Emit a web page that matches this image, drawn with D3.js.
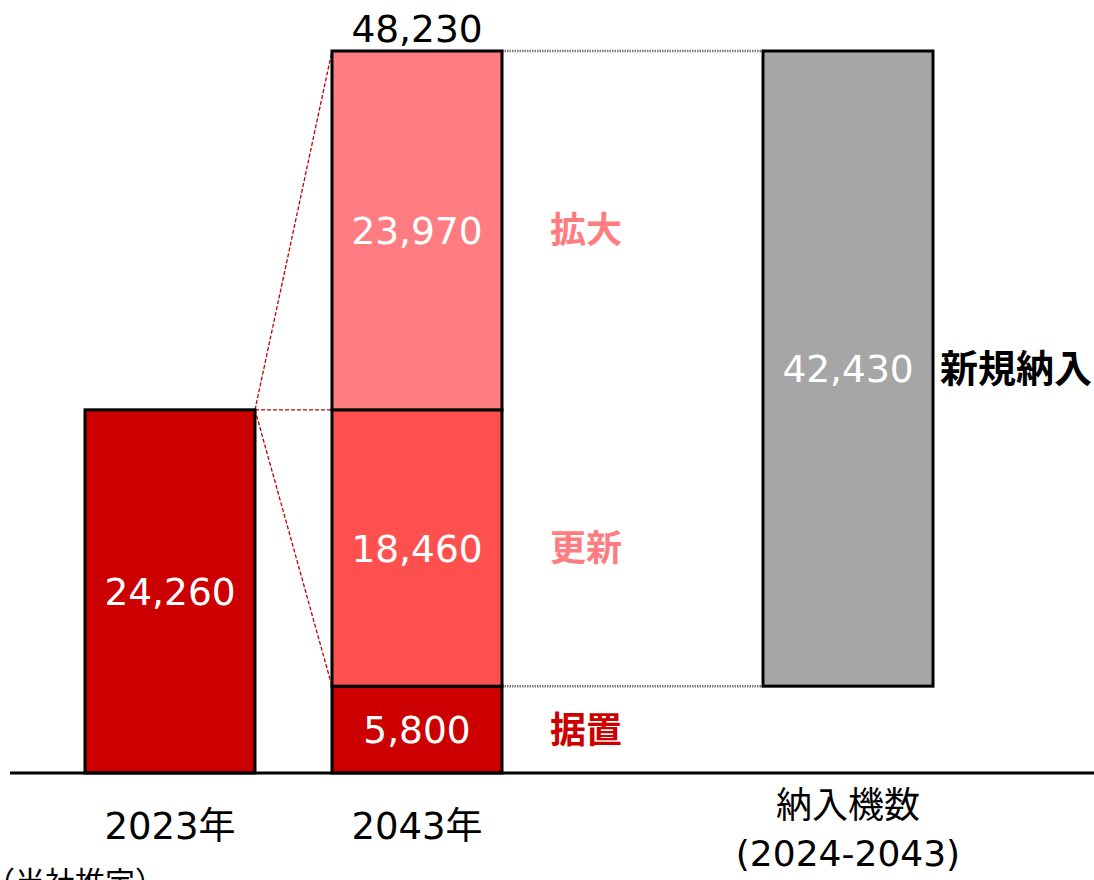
<!DOCTYPE html>
<html>
<head>
<meta charset="utf-8">
<script src="https://cdn.jsdelivr.net/npm/d3@7"></script>
<style>
  body { margin: 0; background: #fff; }
  svg { display: block; }
  text { font-family: "DejaVu Sans", "Noto Sans CJK JP", sans-serif; }
</style>
</head>
<body>
<svg width="1094" height="880"></svg>
<script>
// カテゴリ
const categories = ['2023年', '2043年', '納入機数'];
// 2023年の実績
const base2023 = 24260;
// 2043年の内訳（下から）
const segments2043 = [
  {name: '据置', value: 5800},
  {name: '更新', value: 18460},
  {name: '拡大', value: 23970},
];
// 新規納入 (2024-2043)
const newDelivery = 42430;
const total2043 = 48230;

const segColors = {'据置': '#cc0000', '更新': '#ff5050', '拡大': '#ff7c80'};
const labelColors = {'据置': '#cc0000', '更新': '#ff7c80', '拡大': '#ff7c80'};

const svg = d3.select('svg');
const fmt = d3.format(',');

const baseY = 773;
const y = d3.scaleLinear().domain([0, total2043]).range([baseY, 51]);
const xCenter = d3.scaleOrdinal().domain(categories).range([170, 417, 848]);
const barW = 170;

// 積み上げ
let acc = 0;
const stacked = segments2043.map(d => {
  const r = {name: d.name, value: d.value, y0: acc, y1: acc + d.value};
  acc += d.value;
  return r;
});

// 破線（赤）
const x1 = xCenter('2023年') + barW / 2;
const x2 = xCenter('2043年') - barW / 2;
const redLines = [
  [y(base2023), y(total2043)],
  [y(base2023), y(base2023)],
  [y(base2023), y(segments2043[0].value)],
];
svg.selectAll('.redline')
  .data(redLines)
  .enter()
  .append('line')
  .attr('x1', x1).attr('y1', d => d[0])
  .attr('x2', x2).attr('y2', d => d[1])
  .attr('stroke', '#c00000')
  .attr('stroke-width', 1.3)
  .attr('stroke-dasharray', '4,2');

// 点線（グレー）
const gx1 = xCenter('2043年') + barW / 2;
const gx2 = xCenter('納入機数') - barW / 2;
svg.selectAll('.grayline')
  .data([total2043, segments2043[0].value])
  .enter()
  .append('line')
  .attr('x1', gx1).attr('x2', gx2)
  .attr('y1', d => y(d)).attr('y2', d => y(d))
  .attr('stroke', '#7a7a7a')
  .attr('stroke-width', 2.5)
  .attr('stroke-dasharray', '1.5,1');

// 2023年
svg.append('rect')
  .attr('x', xCenter('2023年') - barW / 2)
  .attr('y', y(base2023))
  .attr('width', barW)
  .attr('height', y(0) - y(base2023))
  .attr('fill', '#cc0000')
  .attr('stroke', '#000')
  .attr('stroke-width', 3);
svg.append('text')
  .attr('x', xCenter('2023年'))
  .attr('y', (y(0) + y(base2023)) / 2)
  .attr('dy', '0.36em')
  .attr('text-anchor', 'middle')
  .attr('fill', '#fff')
  .attr('font-size', 37.5)
  .text(fmt(base2023));

// 2043年
svg.selectAll('.seg')
  .data(stacked)
  .enter()
  .append('rect')
  .attr('x', xCenter('2043年') - barW / 2)
  .attr('y', d => y(d.y1))
  .attr('width', barW)
  .attr('height', d => y(d.y0) - y(d.y1))
  .attr('fill', d => segColors[d.name])
  .attr('stroke', '#000')
  .attr('stroke-width', 3);
svg.selectAll('.segval')
  .data(stacked)
  .enter()
  .append('text')
  .attr('x', xCenter('2043年'))
  .attr('y', d => (y(d.y0) + y(d.y1)) / 2)
  .attr('dy', '0.36em')
  .attr('text-anchor', 'middle')
  .attr('fill', '#fff')
  .attr('font-size', 37.5)
  .text(d => fmt(d.value));
svg.selectAll('.segname')
  .data(stacked)
  .enter()
  .append('text')
  .attr('x', 586)
  .attr('y', d => (y(d.y0) + y(d.y1)) / 2)
  .attr('dy', '0.36em')
  .attr('text-anchor', 'middle')
  .attr('fill', d => labelColors[d.name])
  .attr('font-size', 36)
  .attr('font-weight', 'bold')
  .text(d => d.name);
svg.append('text')
  .attr('x', xCenter('2043年'))
  .attr('y', y(total2043) - 9)
  .attr('text-anchor', 'middle')
  .attr('fill', '#000')
  .attr('font-size', 37.5)
  .text(fmt(total2043));

// 新規納入
const nb = total2043 - newDelivery;
svg.append('rect')
  .attr('x', xCenter('納入機数') - barW / 2)
  .attr('y', y(total2043))
  .attr('width', barW)
  .attr('height', y(nb) - y(total2043))
  .attr('fill', '#a6a6a6')
  .attr('stroke', '#000')
  .attr('stroke-width', 3);
svg.append('text')
  .attr('x', xCenter('納入機数'))
  .attr('y', (y(nb) + y(total2043)) / 2)
  .attr('dy', '0.36em')
  .attr('text-anchor', 'middle')
  .attr('fill', '#fff')
  .attr('font-size', 37.5)
  .text(fmt(newDelivery));
svg.append('text')
  .attr('x', 940)
  .attr('y', (y(nb) + y(total2043)) / 2)
  .attr('dy', '0.36em')
  .attr('fill', '#000')
  .attr('font-size', 38)
  .attr('font-weight', 'bold')
  .text('新規納入');

// 軸
svg.append('line')
  .attr('x1', 10).attr('x2', 1094)
  .attr('y1', baseY).attr('y2', baseY)
  .attr('stroke', '#000')
  .attr('stroke-width', 3);

// カテゴリラベル
svg.append('text').attr('x', xCenter('2023年')).attr('y', 839)
  .attr('text-anchor', 'middle').attr('font-size', 37).text('2023年');
svg.append('text').attr('x', xCenter('2043年')).attr('y', 839)
  .attr('text-anchor', 'middle').attr('font-size', 37).text('2043年');
svg.append('text').attr('x', xCenter('納入機数')).attr('y', 818)
  .attr('text-anchor', 'middle').attr('font-size', 36).text('納入機数');
svg.append('text').attr('x', xCenter('納入機数')).attr('y', 866)
  .attr('text-anchor', 'middle').attr('font-size', 36).text('(2024-2043)');

// 注記（下端で切れている）
svg.append('text').attr('x', 165).attr('y', 893)
  .attr('text-anchor', 'end').attr('font-size', 30).text('（当社推定）');
</script>
</body>
</html>
